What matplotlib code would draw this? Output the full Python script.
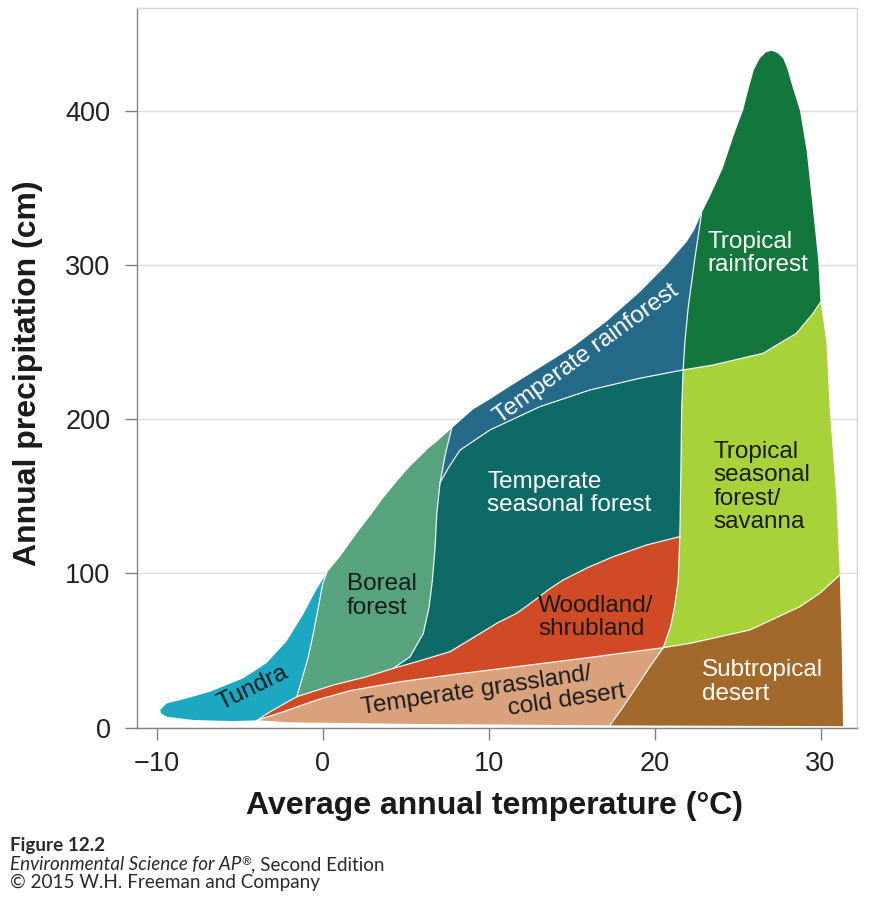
import numpy as np
import matplotlib.pyplot as plt

plt.rcParams['font.family'] = ['Liberation Sans', 'DejaVu Sans']

# ---- boundary curves: temperature (deg C), precipitation (cm)
tundra_outer_t = [-3.95, -5.4, -7.8, -9.4, -9.75, -9.8, -9.4, -8.4, -6.8, -4.8, -3.4, -2.2, -1.2, -0.4, 0.24]
tundra_outer_p = [4.8, 4.3, 5.0, 7.1, 9.3, 11.5, 15.8, 18.4, 23.3, 32.0, 41.8, 55.8, 73.1, 89.3, 100.5]

tundra_boreal_t = [0.24, 0.0, -0.26, -0.57, -0.87, -1.27, -1.57]
tundra_boreal_p = [100.5, 93.6, 78.5, 61.2, 46.0, 30.9, 20.1]

boreal_outer_t = [0.24, 1.04, 2.05, 3.05, 3.55, 4.05, 4.55, 5.06, 5.45, 5.86, 6.35, 6.87, 7.77]
boreal_outer_p = [100.5, 110.9, 126.1, 140.1, 147.7, 154.2, 160.8, 167.1, 171.5, 175.7, 181.0, 185.5, 194.2]

boreal_right_t = [7.77, 7.4, 7.07, 6.87, 6.77, 6.6, 6.4, 6.06, 5.26, 4.25]
boreal_right_p = [194.2, 178.0, 159.0, 139.0, 117.4, 95.0, 78.0, 61.2, 46.0, 38.5]

rain_top_t = [7.77, 9.07, 10.08, 11.08, 13.09, 15.1, 17.11, 19.11, 20.72, 21.93, 22.4, 22.83]
rain_top_p = [194.2, 206.5, 213.0, 220.0, 233.5, 247.0, 263.5, 282.5, 300.0, 315.0, 323.0, 333.6]

trop_outer_t = [22.83, 23.33, 24.1, 24.8, 25.34, 25.7, 25.98, 26.34, 26.7, 27.05, 27.4, 27.75,
                27.99, 28.3, 28.75, 29.16, 29.46, 29.7, 29.86, 30.0]
trop_outer_p = [333.6, 344.4, 362.5, 385.0, 400.6, 415.7, 426.5, 434.0, 437.8, 439.0, 437.5, 434.0,
                427.6, 416.0, 400.6, 374.6, 344.4, 320.0, 303.3, 276.0]

sav_right_t = [30.0, 30.2, 30.36, 30.56, 30.86, 30.96, 31.16]
sav_right_p = [276.0, 262.0, 249.3, 206.0, 162.8, 147.6, 99.0]

desert_right_t = [31.16, 31.28, 31.36]
desert_right_p = [99.0, 50.4, 1.0]

bottom_right_t = [31.36, 17.31]
bottom_right_p = [1.0, 1.5]

bottom_left_t = [17.31, 5.0, -2.0, -3.95]
bottom_left_p = [1.5, 2.5, 3.5, 4.8]

wood_top_t = [-3.95, -3.17, -1.57, 0.64, 2.65, 4.25, 5.66, 7.67, 9.67, 10.48, 11.69,
              12.69, 13.6, 14.49, 16.0, 17.51, 19.52, 21.52]
wood_top_p = [4.8, 10.4, 20.1, 27.7, 33.1, 38.5, 42.8, 49.3, 62.3, 67.7, 74.2,
              82.0, 89.5, 95.8, 104.0, 110.9, 118.5, 123.9]

wood_right_t = [21.52, 21.42, 21.2, 20.95, 20.52]
wood_right_p = [123.9, 95.0, 78.0, 65.0, 51.9]

grass_top_t = [-3.95, -2.37, -0.36, 1.64, 4.66, 7.67, 11.69, 15.7, 18.71, 20.52]
grass_top_p = [4.8, 10.4, 18.0, 24.0, 29.8, 34.2, 39.6, 45.0, 49.3, 51.9]

grass_desert_t = [20.52, 19.72, 18.92, 18.11, 17.31]
grass_desert_p = [51.9, 39.6, 26.6, 13.6, 1.5]

sav_desert_t = [20.52, 22.13, 25.75, 28.76, 29.96, 31.16]
sav_desert_p = [51.9, 54.7, 63.4, 78.5, 87.2, 99.0]

trop_line_t = [22.83, 22.43, 22.02, 21.83, 21.72, 21.63, 21.58, 21.52]
trop_line_p = [333.6, 304.5, 272.0, 250.5, 232.0, 206.0, 162.8, 123.9]

seas_rain_t = [7.07, 7.6, 8.27, 10.08, 13.09, 16.1, 19.11, 21.72]
seas_rain_p = [159.0, 169.0, 180.0, 193.1, 208.2, 219.0, 226.6, 232.0]

trop_sav_t = [21.72, 23.53, 26.54, 28.55, 29.55, 30.0]
trop_sav_p = [232.0, 235.2, 242.8, 255.8, 268.7, 276.0]

colors = {
    'tundra': '#1ca8c1', 'boreal': '#56a37e', 'rain': '#266a8a', 'seasonal': '#0e6a66',
    'wood': '#d04a26', 'grass': '#d9a27d', 'desert': '#a2692a', 'savanna': '#a8d23a',
    'troprain': '#13763c',
}


def curve(t, p):
    return np.array([t, p], dtype=float)


tundra_outer = curve(tundra_outer_t, tundra_outer_p)
tundra_boreal = curve(tundra_boreal_t, tundra_boreal_p)
boreal_outer = curve(boreal_outer_t, boreal_outer_p)
boreal_right = curve(boreal_right_t, boreal_right_p)
rain_top = curve(rain_top_t, rain_top_p)
trop_outer = curve(trop_outer_t, trop_outer_p)
sav_right = curve(sav_right_t, sav_right_p)
desert_right = curve(desert_right_t, desert_right_p)
bottom_right = curve(bottom_right_t, bottom_right_p)
bottom_left = curve(bottom_left_t, bottom_left_p)
wood_top = curve(wood_top_t, wood_top_p)
wood_right = curve(wood_right_t, wood_right_p)
grass_top = curve(grass_top_t, grass_top_p)
grass_desert = curve(grass_desert_t, grass_desert_p)
sav_desert = curve(sav_desert_t, sav_desert_p)
trop_line = curve(trop_line_t, trop_line_p)
seas_rain = curve(seas_rain_t, seas_rain_p)
trop_sav = curve(trop_sav_t, trop_sav_p)

regions = [
    ('tundra', [tundra_outer, tundra_boreal, wood_top[:, 2::-1]]),
    ('boreal', [boreal_outer, boreal_right, wood_top[:, 5:1:-1], tundra_boreal[:, ::-1]]),
    ('rain', [rain_top, trop_line[:, :5], seas_rain[:, ::-1], boreal_right[:, 2::-1]]),
    ('seasonal', [seas_rain, trop_line[:, 4:], wood_top[:, :4:-1], boreal_right[:, :1:-1]]),
    ('wood', [wood_top, wood_right, grass_top[:, ::-1]]),
    ('grass', [grass_top, grass_desert, bottom_left]),
    ('desert', [sav_desert, desert_right, bottom_right, grass_desert[:, ::-1]]),
    ('savanna', [wood_right[:, ::-1], trop_line[:, :3:-1], trop_sav, sav_right, sav_desert[:, ::-1]]),
    ('troprain', [trop_outer, trop_sav[:, ::-1], trop_line[:, 4::-1]]),
]
inner_lines = [tundra_boreal, wood_top, boreal_right, seas_rain, trop_line, wood_right,
               grass_top, grass_desert, sav_desert, trop_sav]

fig = plt.figure(figsize=(8.9, 9), dpi=100)
ax = fig.add_axes([137 / 890, 1 - 727.7 / 900, 720 / 890, 719.7 / 900])

for name, pieces in regions:
    poly = np.hstack(pieces)
    ax.fill(poly[0], poly[1], color=colors[name], lw=0, zorder=2)
for c in inner_lines:
    ax.plot(c[0], c[1], color='white', lw=0.9, alpha=0.9, zorder=3)

# biome labels
dark = '#1b1b1b'
fs = 17.5
lab = dict(fontsize=fs, linespacing=1.08, zorder=4)
ax.text(-4.2, 25.7, 'Tundra', color=dark, rotation=26, ha='center', va='center',
        rotation_mode='anchor', **lab)
ax.text(1.46, 85.4, 'Boreal\nforest', color=dark, ha='left', va='center', **lab)
ax.text(9.9, 151.9, 'Temperate\nseasonal forest', color='white', ha='left', va='center', **lab)
ax.text(15.9, 242.5, 'Temperate rainforest', color='white', rotation=36, ha='center',
        va='center', rotation_mode='anchor', **lab)
ax.text(23.2, 307.5, 'Tropical\nrainforest', color='white', ha='left', va='center', **lab)
ax.text(23.57, 156, 'Tropical\nseasonal\nforest/\nsavanna', color=dark, ha='left',
        va='center', **lab)
ax.text(12.99, 71.5, 'Woodland/\nshrubland', color=dark, ha='left', va='center', **lab)
ax.text(9.28, 24.1, 'Temperate grassland/', color=dark, rotation=8.5, ha='center',
        va='center', rotation_mode='anchor', **lab)
ax.text(14.7, 17.6, 'cold desert', color=dark, rotation=8.5, ha='center',
        va='center', rotation_mode='anchor', **lab)
ax.text(22.83, 29.6, 'Subtropical\ndesert', color='white', ha='left', va='center', **lab)

ax.set_xlim(-11.2, 32.2)
ax.set_ylim(0, 466.7)
ax.set_xticks([-10, 0, 10, 20, 30])
ax.set_yticks([0, 100, 200, 300, 400])
ax.set_axisbelow(True)
ax.yaxis.grid(True, color='#dedede', lw=1.0)
ax.xaxis.grid(False)
for side in ['left', 'bottom']:
    ax.spines[side].set_color('#858585')
    ax.spines[side].set_linewidth(1.0)
for side in ['top', 'right']:
    ax.spines[side].set_color('#d6d6d6')
    ax.spines[side].set_linewidth(1.0)
ax.tick_params(axis='both', length=8.5, width=1.0, color='#808080', labelcolor='#222222',
               labelsize=19.5)
ax.tick_params(axis='x', pad=8.5)
ax.tick_params(axis='y', pad=10.5)

ax.set_xlabel('Average annual temperature (°C)', fontsize=23, fontweight='bold', color='#1a1a1a')
ax.set_ylabel('Annual precipitation (cm)', fontsize=23, fontweight='bold', color='#1a1a1a')
ax.xaxis.set_label_coords(0.4965, -0.088)
ax.yaxis.set_label_coords(-0.1306, 0.492)

# caption block
cap = dict(family=['Lato', 'DejaVu Sans'], fontsize=13.6, color='#2a2a2a', va='baseline')
fig.text(10 / 890, 1 - 851 / 900, 'Figure 12.2', fontweight='bold', **cap)
fig.canvas.draw()
r = fig.canvas.get_renderer()
y2 = 1 - 870 / 900
t_a = fig.text(10 / 890, y2, 'Environmental Science for AP', style='italic', **cap)
bb = t_a.get_window_extent(r)
t_b = fig.text(bb.x1 / fig.bbox.width, y2 + 5 / 900, '®',
               **{**cap, 'fontsize': 8.5})
bb = t_b.get_window_extent(r)
fig.text(bb.x1 / fig.bbox.width, y2, ', Second Edition', **cap)
fig.text(10 / 890, 1 - 888 / 900, '© 2015 W.H. Freeman and Company', **cap)

fig.savefig('out.png', dpi=100)
